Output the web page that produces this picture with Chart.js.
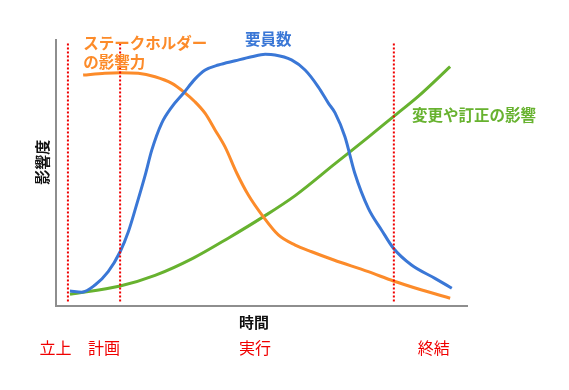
<!DOCTYPE html>
<html>
<head>
<meta charset="utf-8">
<script src="https://cdn.jsdelivr.net/npm/chart.js@4"></script>
<style>
  body { margin: 0; background: #fff; }
  canvas { display: block; }
</style>
</head>
<body>
<canvas id="lifeChart" width="569" height="390"></canvas>
<script>
// series values (time 0-100, influence 0-100)
let staffX = [3.4, 6.3, 9.5, 12.7, 15.6, 17.6, 19.6, 21.7, 23.3, 25.7, 28.2, 31.0, 33.8, 36.3, 39.5, 43.6, 47.6, 50.9, 53.3, 57.3, 60.6, 63.8, 66.3, 67.9, 70.3, 72.7, 76.0, 79.2, 82.1, 86.5, 92.2, 96.3];
let staffY = [5.6, 5.2, 7.9, 12.9, 20.4, 27.9, 38.0, 49.2, 58.6, 68.7, 74.9, 80.0, 85.3, 88.7, 90.6, 92.2, 93.7, 94.6, 94.4, 92.5, 88.7, 82.4, 76.2, 72.6, 63.6, 49.9, 36.7, 28.6, 21.7, 15.4, 10.4, 6.7];

let stakeX = [6.6, 11.9, 15.6, 20.0, 24.1, 28.2, 31.0, 33.8, 36.3, 38.7, 41.1, 44.0, 46.8, 50.4, 54.1, 58.2, 62.2, 67.6, 76.0, 82.1, 89.0, 95.9];
let stakeY = [86.8, 87.5, 87.7, 87.5, 86.2, 83.7, 80.6, 76.8, 72.4, 66.2, 59.9, 49.9, 41.7, 33.6, 26.7, 22.9, 20.4, 17.3, 12.9, 9.4, 6.0, 2.9];

let changeX = [3.4, 15.6, 24.1, 33.4, 41.9, 50.4, 58.2, 67.9, 76.0, 82.1, 88.2, 95.9];
let changeY = [4.4, 7.5, 11.5, 18.0, 25.5, 33.5, 41.5, 53.5, 63.5, 71.2, 78.9, 90.0];

// phase boundaries on the time axis
let phaseBounds = [2.9, 15.6, 82.2];
let phaseNames = ['立上', '計画', '実行', '終結'];

let seriesNames = ['要員数', 'ステークホルダー\nの影響力', '変更や訂正の影響'];
let axisTitles = ['時間', '影響度'];

function toPoints(xs, ys)
  {
    let pts = [];
    for(let i = 0; i < xs.length; i++)
      {
        pts.push({x: xs[i], y: ys[i]});
      }
    return pts;
  }

let datasets = [];
phaseBounds.forEach(function(b)
  {
    datasets.push({
      data: [{x: b, y: 1.7}, {x: b, y: 98.9}],
      borderColor: '#f00000',
      borderWidth: 2,
      borderDash: [2, 2],
      pointRadius: 0,
      order: 0
    });
  });

let curveColors = ['#3a77d6', '#fc8b2a', '#67b22f'];
let curves = [[staffX, staffY], [stakeX, stakeY], [changeX, changeY]];
curves.forEach(function(c, i)
  {
    datasets.push({
      label: seriesNames[i],
      data: toPoints(c[0], c[1]),
      borderColor: curveColors[i],
      borderWidth: 3,
      pointRadius: 0,
      cubicInterpolationMode: 'monotone',
      order: 1
    });
  });

const jp = '"Noto Sans CJK JP", "Noto Sans", sans-serif';

// text labels placed through the scales
const labelPlugin = {
  id: 'labels',
  afterDatasetsDraw(chart)
    {
      const ctx = chart.ctx;
      const xs = chart.scales.x;
      const ys = chart.scales.y;
      const area = chart.chartArea;
      ctx.save();
      ctx.textBaseline = 'middle';

      // series names
      const spots = [[46.0, 100.4], [6.6, 98.9], [86.6, 71.8]];
      ctx.font = 'bold 15.5px ' + jp;
      ctx.textAlign = 'left';
      seriesNames.forEach(function(name, i)
        {
          ctx.fillStyle = curveColors[i];
          let lines = name.split('\n');
          lines.forEach(function(line, j)
            {
              ctx.fillText(line, xs.getPixelForValue(spots[i][0]), ys.getPixelForValue(spots[i][1]) + j * 19);
            });
        });

      // axis titles
      ctx.font = 'bold 15px ' + jp;
      ctx.fillStyle = '#111';
      ctx.textAlign = 'center';
      ctx.fillText(axisTitles[0], xs.getPixelForValue(48.2), area.bottom + 16);
      ctx.save();
      ctx.translate(area.left - 14, ys.getPixelForValue(54));
      ctx.rotate(-Math.PI / 2);
      ctx.fillText(axisTitles[1], 0, 0);
      ctx.restore();

      // phase names
      const phaseX = [-0.1, 11.7, 48.4, 91.9];
      ctx.font = '16px ' + jp;
      ctx.fillStyle = '#f00000';
      phaseNames.forEach(function(p, i)
        {
          ctx.fillText(p, xs.getPixelForValue(phaseX[i]), area.bottom + 42);
        });
      ctx.restore();
    }
};

let ctx = document.getElementById('lifeChart').getContext('2d');
new Chart(ctx, {
  type: 'line',
  data: { datasets: datasets },
  options: {
    responsive: false,
    animation: false,
    devicePixelRatio: 1,
    layout: {
      padding: { left: 56, top: 40, right: 102, bottom: 84 }
    },
    plugins: {
      legend: { display: false },
      tooltip: { enabled: false }
    },
    scales: {
      x: {
        type: 'linear',
        min: 0,
        max: 100,
        ticks: { display: false },
        grid: { display: false, drawTicks: false },
        border: { display: true, color: '#8e8e8e', width: 2 }
      },
      y: {
        min: 0,
        max: 100,
        ticks: { display: false },
        grid: { display: false, drawTicks: false },
        border: { display: true, color: '#8e8e8e', width: 2 }
      }
    }
  },
  plugins: [labelPlugin]
});
</script>
</body>
</html>
